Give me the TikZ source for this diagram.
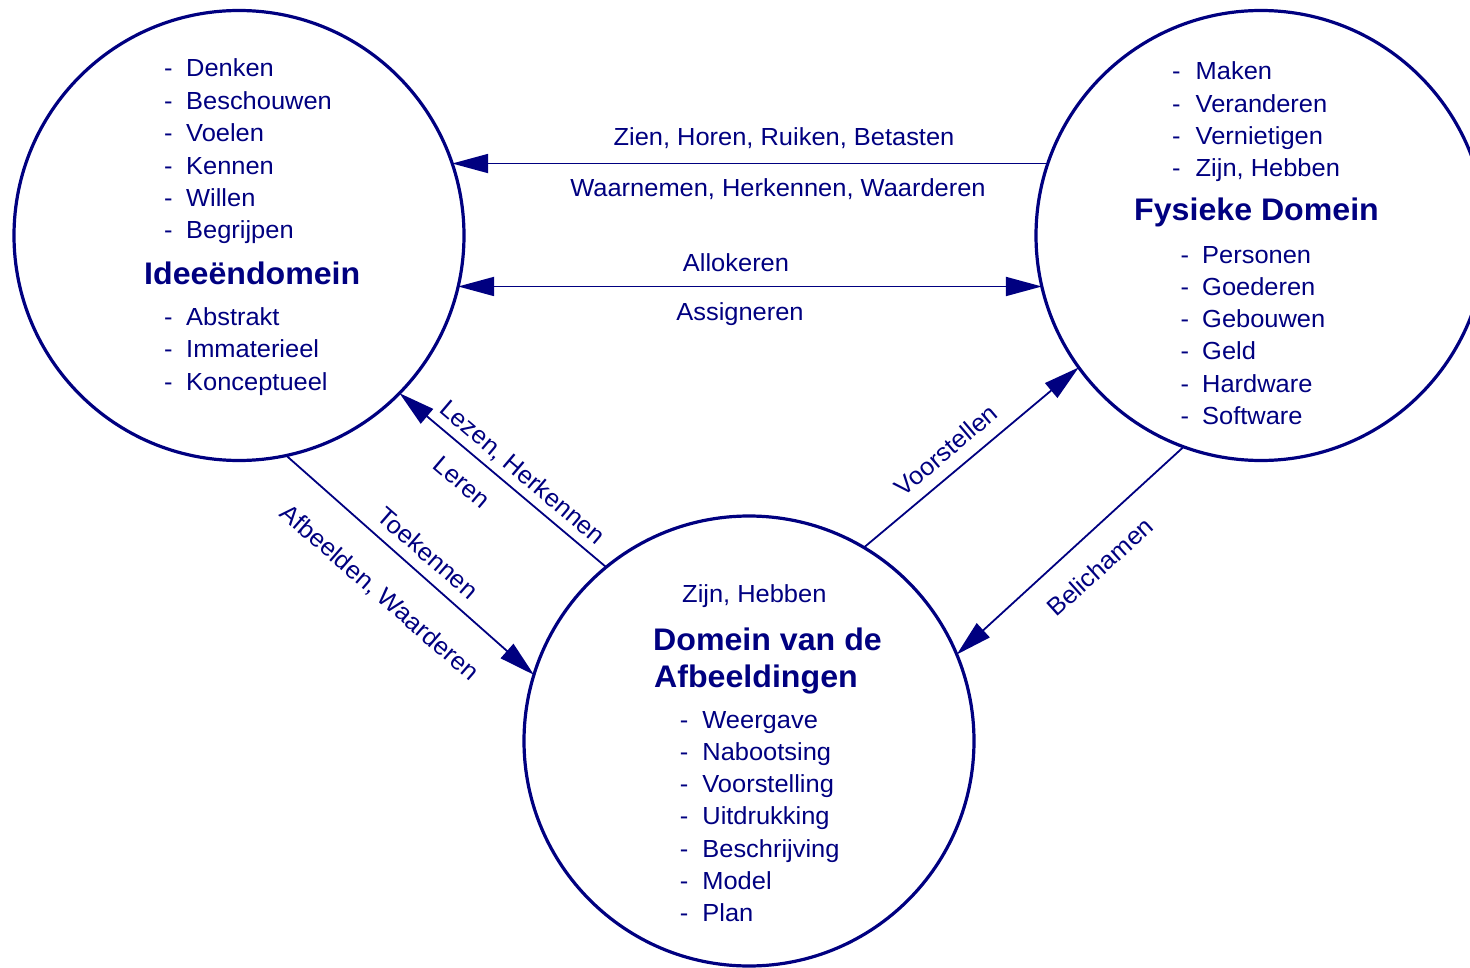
\documentclass[tikz,border=0pt]{standalone}
\usepackage{fontspec}
\setmainfont{Liberation Sans}[FakeStretch=1.03]
\usetikzlibrary{arrows.meta}
\definecolor{navy}{RGB}{0,0,128}

\begin{document}
\begin{tikzpicture}[x=1pt,y=-1pt,
  domcircle/.style={circle, draw=navy, line width=3.2pt, minimum size=450pt,
                 inner sep=0pt, outer sep=0pt},
  itemtxt/.style={anchor=base west, inner sep=0pt, text=navy,
               font=\fontsize{24.7}{28}\selectfont},
  ttltxt/.style={anchor=base west, inner sep=0pt, text=navy,
                font=\bfseries\fontsize{31.2}{34}\selectfont},
  lbl/.style={inner sep=0pt, text=navy, font=\fontsize{24.7}{28}\selectfont,
              text height=17.5pt, text depth=0pt},
  flow/.style={draw=navy, line width=1.8pt, -{Triangle[length=36pt,width=19pt]}},
  flowboth/.style={draw=navy, line width=1.8pt,
               {Triangle[length=36pt,width=19pt]}-{Triangle[length=36pt,width=19pt]}},
]
\useasboundingbox (0,0) rectangle (1470,968);

% the three domains
\node[domcircle] (idee) at (239,235.5) {};
\node[domcircle] (fys)  at (1261,235.5) {};
\node[domcircle] (afb)  at (749,741) {};

% Ideeendomein
\foreach \t [count=\i] in {Denken,Beschouwen,Voelen,Kennen,Willen,Begrijpen}
  \node[itemtxt] (ia\i) at (164,{77+32.4*(\i-1)}) {\makebox[22pt][l]{-}\t};
\node[ttltxt] (tidee) at (144,284.3) {Ideeëndomein};
\foreach \t [count=\i] in {Abstrakt,Immaterieel,Konceptueel}
  \node[itemtxt] (ib\i) at (164,{325.5+32.4*(\i-1)}) {\makebox[22pt][l]{-}\t};

% Fysieke Domein
\foreach \t [count=\i] in {Maken,Veranderen,Vernietigen,{Zijn, Hebben}}
  \node[itemtxt] (fa\i) at (1172,{80+32.2*(\i-1)}) {\makebox[23.5pt][l]{-}\t};
\node[ttltxt] (tfys) at (1134,220.7) {Fysieke Domein};
\foreach \t [count=\i] in {Personen,Goederen,Gebouwen,Geld,Hardware,Software}
  \node[itemtxt] (fb\i) at (1180.5,{263.3+32.2*(\i-1)}) {\makebox[21.5pt][l]{-}\t};

% Domein van de Afbeeldingen
\node[itemtxt] (az) at (682,602.7) {Zijn, Hebben};
\node[ttltxt] (tafb1) at (653,650.7) {Domein van de};
\node[ttltxt] (tafb2) at (654,687) {Afbeeldingen};
\foreach \t [count=\i] in {Weergave,Nabootsing,Voorstelling,Uitdrukking,Beschrijving,Model,Plan}
  \node[itemtxt] (ab\i) at (679.7,{728.3+32.2*(\i-1)}) {\makebox[22.5pt][l]{-}\t};

% relations (end points on the circle outlines, r = 225)
\draw[flow] ([shift={(-161.34:225)}]fys.center) -- ([shift={(-18.66:225)}]idee.center);
\draw[flowboth] ([shift={(13.1:225)}]idee.center) -- ([shift={(166.9:225)}]fys.center);
\draw[flow] ([shift={(-129.4:225)}]afb.center) -- ([shift={(44.5:225)}]idee.center);
\draw[flow] ([shift={(77.9:225)}]idee.center) -- ([shift={(-162.9:225)}]afb.center);
\draw[flow] ([shift={(-59.3:225)}]afb.center) -- ([shift={(144.1:225)}]fys.center);
\draw[flow] ([shift={(110.1:225)}]fys.center) -- ([shift={(-22.6:225)}]afb.center);

% relation labels
\node[lbl, anchor=base] (zien) at (784,146) {Zien, Horen, Ruiken, Betasten};
\node[lbl, anchor=base] (waarn) at (778,197) {Waarnemen, Herkennen, Waarderen};
\node[lbl, anchor=base] (allok) at (736,272) {Allokeren};
\node[lbl, anchor=base] (assig) at (740,321) {Assigneren};
\node[lbl, rotate=-40.4] (lezen) at (523,472) {Lezen, Herkennen};
\node[lbl, rotate=-40.4] (leren) at (462,482) {Leren};
\node[lbl, rotate=-41] (toek) at (428,553) {Toekennen};
\node[lbl, rotate=-41] (afbw) at (380,592) {Afbeelden, Waarderen};
\node[lbl, rotate=40.3] (voor) at (946,450) {Voorstellen};
\node[lbl, rotate=42] (belich) at (1100,567) {Belichamen};
\end{tikzpicture}
\end{document}
